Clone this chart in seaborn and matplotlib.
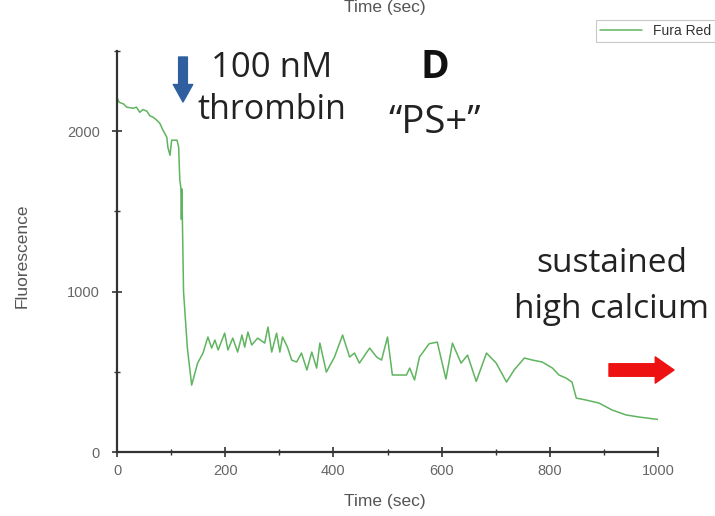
import numpy as np
import pandas as pd
import matplotlib
matplotlib.use("Agg")
import matplotlib.pyplot as plt
import seaborn as sns
from matplotlib.ticker import MultipleLocator

# ---- data ----
time_sec = [0, 4, 12, 18, 30, 36, 42, 48, 55, 61, 67, 73, 79, 85, 92, 94, 98, 101, 111,
            114, 116, 118, 119, 120, 121, 123, 130, 138,
            149, 159, 168, 175, 181, 187, 199, 205, 214, 223, 231, 236, 242, 249, 260, 273, 279,
            286, 295, 301, 306, 315, 323, 332, 341, 351, 360, 369, 375, 387, 402, 417, 430, 439,
            448, 467, 480, 489, 500, 509, 535, 541, 550, 559, 577,
            592, 608, 620, 636, 648, 664, 683, 701, 720, 734, 753, 768, 786, 805, 817, 830, 841, 849,
            867, 891, 915, 941, 965, 1000]
fluorescence = [2210, 2180, 2170, 2150, 2143, 2150, 2118, 2135, 2125, 2095, 2087, 2070, 2050, 2006, 1963,
                1900, 1850, 1944, 1944,
                1900, 1700, 1650, 1450, 1640, 1420, 1000, 650, 417,
                554, 617, 717, 648, 698, 636, 741, 636, 710, 623, 729, 654, 748, 667, 710, 679, 779,
                623, 741, 623, 717, 654, 573, 561, 617, 511, 623, 523, 679, 498, 592, 729, 592, 617,
                554, 648, 592, 573, 717, 480, 480, 523, 449, 592, 675,
                685, 455, 679, 554, 604, 440, 617, 554, 436, 511, 586, 573, 561, 523, 480, 461, 436, 336,
                324, 305, 262, 231, 218, 203]
series_name = "Fura Red"
x_ticks = [0, 200, 400, 600, 800, 1000]
y_ticks = [0, 1000, 2000]

df = pd.DataFrame({"Time (sec)": time_sec, "Fluorescence": fluorescence})

sns.set_theme(style="white")
plt.rcParams["font.family"] = ["Liberation Sans", "DejaVu Sans"]

fig = plt.figure(figsize=(7.15, 5.16), dpi=100)
ax = fig.add_axes([117 / 715, 1 - 452 / 516, (658 - 117) / 715, (452 - 51) / 516])

sns.lineplot(data=df, x="Time (sec)", y="Fluorescence", ax=ax, color="#5fb45f",
             linewidth=1.1, label=series_name, sort=False, estimator=None)

ax.set_xlim(0, 1000)
ax.set_ylim(0, 2500)
ax.set_xticks(x_ticks)
ax.set_yticks(y_ticks)
ax.xaxis.set_minor_locator(MultipleLocator(100))
ax.yaxis.set_minor_locator(MultipleLocator(500))
for s in ["top", "right"]:
    ax.spines[s].set_visible(False)
for s in ["left", "bottom"]:
    ax.spines[s].set_color("#333333")
    ax.spines[s].set_linewidth(1.6)
ax.tick_params(axis="both", which="major", direction="inout", length=7, width=1.2,
               colors="#333333", labelcolor="#666666", labelsize=10.5)
ax.tick_params(axis="y", which="major", pad=9)
ax.tick_params(axis="x", which="major", pad=5)
ax.tick_params(axis="both", which="minor", direction="inout", length=4, width=1.0, colors="#333333")
ax.tick_params(left=True, bottom=True)
ax.tick_params(which="minor", left=True, bottom=True)
ax.set_xlabel("Time (sec)", fontsize=12.5, color="#555555")
ax.set_ylabel("Fluorescence", fontsize=12.5, color="#555555")
ax.xaxis.set_label_coords(0.495, -0.105)
ax.yaxis.set_label_coords(-0.162, 0.49)

leg = ax.legend(loc="upper right", bbox_to_anchor=(1.0, 1 - 20 / 516),
                bbox_transform=fig.transFigure, fontsize=10, frameon=True,
                fancybox=False, handlelength=3.0, borderpad=0.3, borderaxespad=0)
leg.get_frame().set_edgecolor("#bbbbbb")
leg.get_frame().set_linewidth(0.8)
for t in leg.get_texts():
    t.set_color("#333333")

# title of the panel above, cut at the top in the reference
fig.text(385 / 715, 1.0, "Time (sec)", ha="center", va="top", fontsize=12.5, color="#555555")

txt_font = ["Open Sans", "DejaVu Sans"]
fig.text(272 / 715, 1 - 68 / 516, "100 nM", ha="center", va="center", fontsize=25,
         color="#222222", family=txt_font)
fig.text(272 / 715, 1 - 110 / 516, "thrombin", ha="center", va="center", fontsize=24.5,
         color="#222222", family=txt_font)
fig.text(435 / 715, 1 - 68 / 516, "D", ha="center", va="center", fontsize=28, fontweight="bold",
         color="#111111", family=txt_font)
fig.text(435 / 715, 1 - 123 / 516, "\u201cPS+\u201d", ha="center", va="center", fontsize=27.5,
         color="#222222", family=txt_font)
fig.text(612 / 715, 1 - 264 / 516, "sustained", ha="center", va="center", fontsize=24,
         color="#222222", family=txt_font)
fig.text(612 / 715, 1 - 310 / 516, "high calcium", ha="center", va="center", fontsize=24,
         color="#222222", family=txt_font)

# block arrows
ax.annotate("", xy=(183, 516 - 102), xytext=(183, 516 - 57), xycoords="figure pixels",
            textcoords="figure pixels",
            arrowprops=dict(arrowstyle="simple,head_length=0.9,head_width=1.0,tail_width=0.45",
                            mutation_scale=14, color="#2f5f9e", shrinkA=0, shrinkB=0))
ax.annotate("", xy=(674, 516 - 370), xytext=(609, 516 - 370), xycoords="figure pixels",
            textcoords="figure pixels",
            arrowprops=dict(arrowstyle="simple,head_length=0.75,head_width=1.05,tail_width=0.5",
                            mutation_scale=18, color="#ee1111", shrinkA=0, shrinkB=0))

fig.savefig("out.png", dpi=100)
